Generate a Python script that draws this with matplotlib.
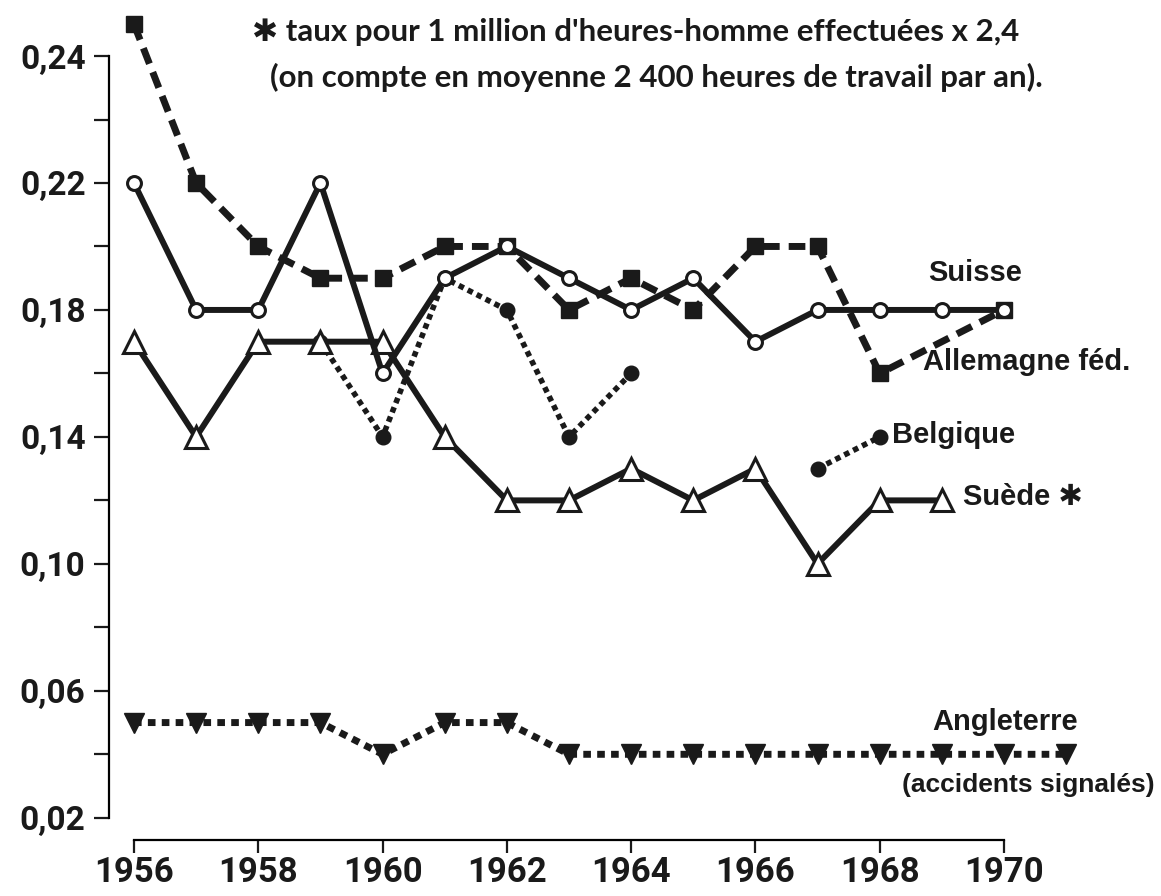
import numpy as np
import matplotlib
matplotlib.use("Agg")
import matplotlib.pyplot as plt

# données (taux d'accidents)
annees = list(range(1956, 1971))
annees_allemagne = [1956, 1957, 1958, 1959, 1960, 1961, 1962, 1963, 1964, 1965, 1966, 1967, 1968, 1970]
allemagne = [0.27, 0.22, 0.20, 0.19, 0.19, 0.20, 0.20, 0.18, 0.19, 0.18, 0.20, 0.20, 0.16, 0.18]
suisse = [0.22, 0.18, 0.18, 0.22, 0.16, 0.19, 0.20, 0.19, 0.18, 0.19, 0.17, 0.18, 0.18, 0.18, 0.18]
annees_belgique = list(range(1959, 1969))
belgique = [0.17, 0.14, 0.19, 0.18, 0.14, 0.16, np.nan, np.nan, 0.13, 0.14]
annees_suede = list(range(1956, 1970))
suede = [0.17, 0.14, 0.17, 0.17, 0.17, 0.14, 0.12, 0.12, 0.13, 0.12, 0.13, 0.10, 0.12, 0.12]
annees_angleterre = list(range(1956, 1972))
angleterre = [0.05, 0.05, 0.05, 0.05, 0.04, 0.05, 0.05, 0.04, 0.04, 0.04, 0.04, 0.04, 0.04, 0.04, 0.04, 0.04]

yticks = [0.02, 0.06, 0.10, 0.14, 0.18, 0.22, 0.26]
ytick_labels = ['0,02', '0,06', '0,10', '0,14', '0,18', '0,22', '0,24']
xticks = [1956, 1958, 1960, 1962, 1964, 1966, 1968, 1970]

fig = plt.figure(figsize=(11.61, 8.96), dpi=100)
ax = fig.add_axes([0.094, 0.0625, 0.8564, 0.9281])

noir = '#1a1a1a'

# Allemagne féd. : tirets + carrés pleins
ax.plot(annees_allemagne, allemagne, color=noir, lw=5, dashes=(2.4, 1.3),
        marker='s', ms=11, mfc=noir, mec=noir, zorder=3, clip_on=False)
# Suisse : trait plein + cercles vides
ax.plot(annees, suisse, color=noir, lw=4.3, marker='o', ms=10, mfc='white',
        mec=noir, mew=2.2, zorder=4, clip_on=False)
# Belgique : pointillés + cercles pleins
ax.plot(annees_belgique, belgique, color=noir, lw=4, dashes=(1, 0.8),
        marker='o', ms=10.5, mfc=noir, mec=noir, zorder=3)
# Suède : trait plein + triangles vides
ax.plot(annees_suede, suede, color=noir, lw=4.3, marker='^', ms=16, mfc='white',
        mec=noir, mew=2.2, zorder=3)
# Angleterre : pointillés + triangles pleins
ax.plot(annees_angleterre, angleterre, color=noir, lw=5, dashes=(1.1, 0.9),
        marker='v', ms=15, mfc=noir, mec=noir, zorder=3, clip_on=False)

ax.set_xlim(1955.6, 1971.6)
ax.set_ylim(0.013, 0.275)

for s in ['top', 'right']:
    ax.spines[s].set_visible(False)
ax.spines['left'].set_bounds(0.02, 0.26)
ax.spines['bottom'].set_bounds(1956, 1970)
ax.spines['left'].set_linewidth(1.6)
ax.spines['bottom'].set_linewidth(1.6)

ax.set_xticks(xticks)
ax.set_xticklabels([str(a) for a in xticks])
ax.set_yticks(yticks)
ax.set_yticklabels(ytick_labels)
ax.set_yticks([0.04, 0.08, 0.12, 0.16, 0.20, 0.24], minor=True)

ax.tick_params(axis='x', direction='out', length=9.5, width=1.6, pad=2,
               labelsize=25, colors=noir)
ax.tick_params(axis='y', which='both', direction='out', length=11, width=1.6,
               pad=6, labelsize=24, colors=noir)
for lab in ax.get_xticklabels() + ax.get_yticklabels():
    lab.set_fontfamily('Roboto')
    lab.set_fontweight('bold')

lbl = dict(fontsize=21, fontweight='bold', family='Liberation Sans', color=noir,
           ha='left', va='center')
ax.text(1968.78, 0.1917, 'Suisse', **lbl)
ax.text(1968.70, 0.1636, 'Allemagne féd.', **lbl)
ax.text(1968.20, 0.1406, 'Belgique', **lbl)
ax.text(1969.34, 0.1211, 'Suède ✱', fontsize=21, fontweight='bold',
        family=['Liberation Sans', 'DejaVu Sans'], color=noir, ha='left', va='center')
ax.text(1968.84, 0.0502, 'Angleterre', **lbl)
ax.text(1968.36, 0.0304, '(accidents signalés)', fontsize=19, fontweight='bold',
        family='Liberation Sans', color=noir, ha='left', va='center')

note = dict(fontsize=22.5, fontweight='bold', family=['Lato', 'DejaVu Sans'],
            color=noir, ha='left', va='center')
fig.text(0.217, 0.964, "✱ taux pour 1 million d'heures-homme effectuées x 2,4", **note)
fig.text(0.2326, 0.914, "(on compte en moyenne 2 400 heures de travail par an).", **note)

fig.savefig('out.png', dpi=100)
